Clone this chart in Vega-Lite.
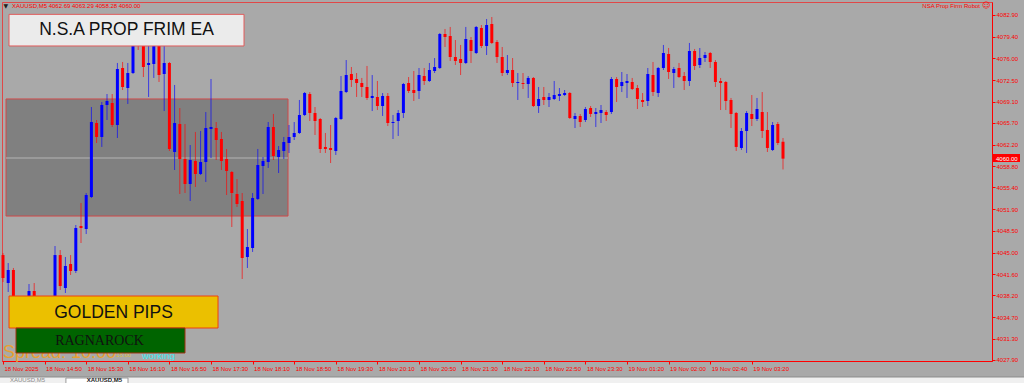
{
"$schema": "https://vega.github.io/schema/vega-lite/v6.json",
"width": 990, "height": 359,
"autosize": {"type": "none"},
"padding": {"left": 2, "top": 2, "right": 32, "bottom": 22},
"background": "#A9A9A9",
"config": {"view": {"stroke": "#E04848", "strokeWidth": 1, "fill": "#A9A9A9"}, "font": "Liberation Sans",
  "scale": {"continuousPadding": 0},
  "axis": {"labelOverlap": false, "labelFontSize": 6, "labelFont": "Liberation Sans", "labelColor": "#FF0000", "tickColor": "#FF0000", "domainColor": "#FF0000",
           "tickSize": 3, "labelPadding": 1, "grid": false, "labelFlush": false, "labelBound": false, "titleColor": "#A9A9A9", "titleFontSize": 1}},
"datasets": {"bars": [
{"i":0,"open":4044.63,"high":4044.95,"low":4040.33,"close":4040.97},
{"i":1,"open":4040.17,"high":4043.36,"low":4038.74,"close":4042.25},
{"i":2,"open":4042.25,"high":4042.57,"low":4036.82,"close":4037.46},
{"i":3,"open":4037.46,"high":4038.10,"low":4035.87,"close":4036.50},
{"i":4,"open":4036.50,"high":4037.94,"low":4035.55,"close":4037.62},
{"i":5,"open":4037.46,"high":4040.01,"low":4036.98,"close":4038.90},
{"i":6,"open":4038.90,"high":4040.17,"low":4036.50,"close":4037.14},
{"i":7,"open":4037.14,"high":4037.62,"low":4035.55,"close":4036.18},
{"i":8,"open":4036.18,"high":4037.46,"low":4035.71,"close":4037.14},
{"i":9,"open":4037.14,"high":4037.78,"low":4036.50,"close":4037.62},
{"i":10,"open":4037.46,"high":4046.07,"low":4037.14,"close":4044.63},
{"i":11,"open":4044.63,"high":4045.43,"low":4039.06,"close":4039.69},
{"i":12,"open":4039.38,"high":4044.32,"low":4038.58,"close":4042.88},
{"i":13,"open":4043.20,"high":4044.63,"low":4041.45,"close":4042.09},
{"i":14,"open":4042.09,"high":4049.42,"low":4041.77,"close":4048.94},
{"i":15,"open":4049.26,"high":4052.93,"low":4046.55,"close":4048.94},
{"i":16,"open":4048.78,"high":4054.52,"low":4047.98,"close":4054.20},
{"i":17,"open":4053.88,"high":4068.23,"low":4053.72,"close":4065.84},
{"i":18,"open":4065.68,"high":4066.16,"low":4062.49,"close":4063.45},
{"i":19,"open":4063.45,"high":4069.03,"low":4061.86,"close":4068.55},
{"i":20,"open":4068.55,"high":4070.30,"low":4066.16,"close":4069.19},
{"i":21,"open":4068.87,"high":4070.30,"low":4065.04,"close":4065.36},
{"i":22,"open":4065.36,"high":4075.25,"low":4063.29,"close":4074.29},
{"i":23,"open":4074.45,"high":4075.41,"low":4070.94,"close":4071.42},
{"i":24,"open":4071.26,"high":4075.25,"low":4068.71,"close":4073.65},
{"i":25,"open":4073.65,"high":4079.71,"low":4073.49,"close":4078.91},
{"i":26,"open":4079.23,"high":4080.03,"low":4077.32,"close":4078.12},
{"i":27,"open":4078.59,"high":4079.55,"low":4073.01,"close":4074.61},
{"i":28,"open":4074.93,"high":4078.28,"low":4069.83,"close":4075.25},
{"i":29,"open":4075.09,"high":4079.23,"low":4072.86,"close":4078.59},
{"i":30,"open":4078.59,"high":4079.23,"low":4072.22,"close":4073.33},
{"i":31,"open":4073.49,"high":4077.96,"low":4067.59,"close":4075.25},
{"i":32,"open":4075.25,"high":4075.41,"low":4061.22,"close":4061.54},
{"i":33,"open":4061.06,"high":4071.74,"low":4058.19,"close":4065.68},
{"i":34,"open":4065.52,"high":4068.07,"low":4054.36,"close":4059.94},
{"i":35,"open":4059.94,"high":4065.52,"low":4054.52,"close":4055.96},
{"i":36,"open":4055.96,"high":4062.17,"low":4053.25,"close":4059.78},
{"i":37,"open":4059.62,"high":4064.25,"low":4055.48,"close":4057.55},
{"i":38,"open":4057.55,"high":4064.41,"low":4057.39,"close":4059.46},
{"i":39,"open":4059.46,"high":4067.43,"low":4056.28,"close":4064.88},
{"i":40,"open":4064.73,"high":4072.70,"low":4060.10,"close":4065.04},
{"i":41,"open":4064.88,"high":4065.84,"low":4059.78,"close":4062.97},
{"i":42,"open":4063.13,"high":4064.25,"low":4058.19,"close":4059.62},
{"i":43,"open":4059.94,"high":4061.54,"low":4054.20,"close":4058.03},
{"i":44,"open":4057.87,"high":4058.03,"low":4049.10,"close":4054.52},
{"i":45,"open":4054.36,"high":4056.75,"low":4052.29,"close":4052.77},
{"i":46,"open":4053.25,"high":4054.52,"low":4040.81,"close":4044.16},
{"i":47,"open":4044.32,"high":4048.78,"low":4042.57,"close":4045.91},
{"i":48,"open":4045.75,"high":4054.52,"low":4045.12,"close":4053.72},
{"i":49,"open":4053.57,"high":4061.54,"low":4053.41,"close":4058.99},
{"i":50,"open":4058.83,"high":4060.26,"low":4054.36,"close":4059.62},
{"i":51,"open":4059.46,"high":4065.84,"low":4058.51,"close":4065.04},
{"i":52,"open":4065.04,"high":4067.12,"low":4059.78,"close":4060.42},
{"i":53,"open":4060.26,"high":4062.01,"low":4057.71,"close":4061.38},
{"i":54,"open":4061.22,"high":4063.45,"low":4059.94,"close":4062.65},
{"i":55,"open":4062.49,"high":4065.36,"low":4060.90,"close":4063.45},
{"i":56,"open":4063.45,"high":4065.84,"low":4062.97,"close":4064.09},
{"i":57,"open":4064.09,"high":4069.35,"low":4063.93,"close":4066.96},
{"i":58,"open":4066.96,"high":4070.62,"low":4066.80,"close":4070.46},
{"i":59,"open":4070.30,"high":4070.62,"low":4066.00,"close":4067.28},
{"i":60,"open":4067.28,"high":4068.23,"low":4063.77,"close":4066.00},
{"i":61,"open":4066.32,"high":4066.48,"low":4060.90,"close":4061.54},
{"i":62,"open":4061.86,"high":4064.09,"low":4060.90,"close":4061.54},
{"i":63,"open":4061.70,"high":4065.36,"low":4059.30,"close":4061.38},
{"i":64,"open":4061.22,"high":4066.64,"low":4060.58,"close":4066.48},
{"i":65,"open":4066.32,"high":4073.17,"low":4066.16,"close":4070.78},
{"i":66,"open":4070.62,"high":4075.72,"low":4070.46,"close":4073.33},
{"i":67,"open":4073.49,"high":4074.61,"low":4071.42,"close":4072.54},
{"i":68,"open":4072.70,"high":4073.65,"low":4069.83,"close":4072.06},
{"i":69,"open":4072.06,"high":4072.86,"low":4069.83,"close":4071.42},
{"i":70,"open":4071.42,"high":4074.77,"low":4069.35,"close":4069.67},
{"i":71,"open":4069.67,"high":4073.33,"low":4067.59,"close":4069.99},
{"i":72,"open":4069.83,"high":4072.38,"low":4067.75,"close":4068.39},
{"i":73,"open":4068.39,"high":4070.46,"low":4066.80,"close":4069.99},
{"i":74,"open":4069.99,"high":4070.46,"low":4065.20,"close":4065.68},
{"i":75,"open":4065.68,"high":4066.96,"low":4063.13,"close":4065.84},
{"i":76,"open":4066.00,"high":4067.75,"low":4063.61,"close":4067.28},
{"i":77,"open":4067.28,"high":4072.06,"low":4066.48,"close":4071.90},
{"i":78,"open":4072.06,"high":4073.01,"low":4070.46,"close":4070.78},
{"i":79,"open":4070.94,"high":4073.97,"low":4069.19,"close":4070.46},
{"i":80,"open":4070.78,"high":4074.45,"low":4069.51,"close":4073.33},
{"i":81,"open":4073.17,"high":4074.45,"low":4071.74,"close":4072.38},
{"i":82,"open":4072.38,"high":4075.25,"low":4072.22,"close":4074.13},
{"i":83,"open":4073.97,"high":4076.04,"low":4073.65,"close":4074.61},
{"i":84,"open":4074.45,"high":4080.03,"low":4074.29,"close":4079.87},
{"i":85,"open":4079.87,"high":4080.67,"low":4077.80,"close":4079.39},
{"i":86,"open":4079.55,"high":4080.99,"low":4075.57,"close":4076.20},
{"i":87,"open":4076.20,"high":4078.91,"low":4074.93,"close":4075.57},
{"i":88,"open":4075.88,"high":4078.12,"low":4073.33,"close":4075.25},
{"i":89,"open":4075.25,"high":4080.99,"low":4075.09,"close":4079.07},
{"i":90,"open":4078.91,"high":4079.39,"low":4075.25,"close":4077.16},
{"i":91,"open":4076.84,"high":4081.14,"low":4076.68,"close":4080.99},
{"i":92,"open":4080.83,"high":4081.30,"low":4077.64,"close":4077.96},
{"i":93,"open":4077.96,"high":4082.26,"low":4076.52,"close":4081.30},
{"i":94,"open":4081.46,"high":4082.58,"low":4078.28,"close":4078.44},
{"i":95,"open":4078.59,"high":4078.91,"low":4075.25,"close":4076.20},
{"i":96,"open":4076.20,"high":4077.80,"low":4073.17,"close":4073.65},
{"i":97,"open":4073.65,"high":4076.52,"low":4073.33,"close":4074.13},
{"i":98,"open":4074.13,"high":4076.04,"low":4071.42,"close":4072.06},
{"i":99,"open":4072.06,"high":4073.65,"low":4069.35,"close":4072.22},
{"i":100,"open":4072.06,"high":4073.65,"low":4071.10,"close":4071.90},
{"i":101,"open":4071.90,"high":4073.17,"low":4069.67,"close":4072.86},
{"i":102,"open":4072.86,"high":4073.01,"low":4068.23,"close":4068.39},
{"i":103,"open":4068.39,"high":4071.42,"low":4067.28,"close":4069.51},
{"i":104,"open":4069.83,"high":4071.42,"low":4068.55,"close":4069.35},
{"i":105,"open":4069.35,"high":4070.46,"low":4068.23,"close":4069.83},
{"i":106,"open":4069.51,"high":4072.38,"low":4069.35,"close":4070.14},
{"i":107,"open":4069.99,"high":4071.26,"low":4069.19,"close":4070.30},
{"i":108,"open":4070.14,"high":4070.94,"low":4069.99,"close":4070.46},
{"i":109,"open":4070.46,"high":4070.62,"low":4066.32,"close":4066.48},
{"i":110,"open":4066.32,"high":4067.28,"low":4064.88,"close":4066.80},
{"i":111,"open":4066.80,"high":4067.12,"low":4065.04,"close":4065.84},
{"i":112,"open":4066.16,"high":4068.23,"low":4065.84,"close":4067.91},
{"i":113,"open":4068.07,"high":4068.39,"low":4066.64,"close":4067.12},
{"i":114,"open":4067.12,"high":4068.07,"low":4065.04,"close":4067.43},
{"i":115,"open":4067.28,"high":4068.55,"low":4065.68,"close":4067.75},
{"i":116,"open":4067.43,"high":4067.75,"low":4066.00,"close":4066.96},
{"i":117,"open":4067.43,"high":4073.01,"low":4067.12,"close":4072.70},
{"i":118,"open":4072.70,"high":4073.01,"low":4069.03,"close":4071.42},
{"i":119,"open":4071.58,"high":4073.81,"low":4070.62,"close":4072.22},
{"i":120,"open":4072.06,"high":4073.49,"low":4069.67,"close":4072.38},
{"i":121,"open":4072.22,"high":4072.86,"low":4070.94,"close":4071.10},
{"i":122,"open":4071.26,"high":4071.74,"low":4067.91,"close":4069.51},
{"i":123,"open":4069.35,"high":4070.46,"low":4068.23,"close":4069.03},
{"i":124,"open":4069.19,"high":4074.45,"low":4068.39,"close":4073.49},
{"i":125,"open":4073.33,"high":4075.41,"low":4069.99,"close":4070.62},
{"i":126,"open":4070.46,"high":4074.61,"low":4069.83,"close":4074.45},
{"i":127,"open":4074.45,"high":4078.12,"low":4074.13,"close":4076.84},
{"i":128,"open":4076.68,"high":4077.64,"low":4072.70,"close":4073.81},
{"i":129,"open":4073.65,"high":4074.61,"low":4071.26,"close":4074.29},
{"i":130,"open":4074.45,"high":4075.25,"low":4072.86,"close":4073.01},
{"i":131,"open":4073.17,"high":4073.81,"low":4070.94,"close":4072.38},
{"i":132,"open":4072.38,"high":4078.44,"low":4071.58,"close":4077.16},
{"i":133,"open":4077.16,"high":4077.48,"low":4074.13,"close":4074.77},
{"i":134,"open":4074.93,"high":4077.64,"low":4074.45,"close":4076.04},
{"i":135,"open":4076.04,"high":4077.00,"low":4075.41,"close":4076.52},
{"i":136,"open":4076.84,"high":4077.00,"low":4074.45,"close":4075.41},
{"i":137,"open":4075.41,"high":4075.72,"low":4071.42,"close":4072.22},
{"i":138,"open":4072.38,"high":4072.86,"low":4067.75,"close":4072.06},
{"i":139,"open":4072.22,"high":4072.38,"low":4067.75,"close":4069.19},
{"i":140,"open":4069.35,"high":4069.67,"low":4064.88,"close":4067.12},
{"i":141,"open":4067.28,"high":4067.43,"low":4061.22,"close":4061.86},
{"i":142,"open":4061.70,"high":4064.88,"low":4061.38,"close":4064.41},
{"i":143,"open":4064.41,"high":4067.59,"low":4060.90,"close":4067.28},
{"i":144,"open":4067.12,"high":4070.14,"low":4065.20,"close":4066.32},
{"i":145,"open":4066.32,"high":4069.67,"low":4066.00,"close":4067.91},
{"i":146,"open":4067.43,"high":4070.62,"low":4063.29,"close":4064.41},
{"i":147,"open":4064.57,"high":4067.43,"low":4061.06,"close":4061.70},
{"i":148,"open":4061.38,"high":4065.84,"low":4061.22,"close":4065.36},
{"i":149,"open":4065.52,"high":4065.84,"low":4062.17,"close":4062.49},
{"i":150,"open":4062.69,"high":4063.29,"low":4058.28,"close":4060.00}
]},
"layer": [
{"data": {"values": [{"name": "zone"}]},
 "layer": [
  {"mark": {"type": "rect", "fill": "#808080", "stroke": "#D04848", "strokeWidth": 1},
   "encoding": {"x": {"datum": 0.577, "type": "quantitative", "scale": {"domain": [-0.1923, 190.19], "nice": false, "zero": false, "padding": 0}},
                "x2": {"datum": 54.81},
                "y": {"datum": 4069.51, "type": "quantitative", "scale": {"domain": [4027.74, 4084.97], "nice": false, "zero": false, "padding": 0}},
                "y2": {"datum": 4050.85}}},
  {"mark": {"type": "rule", "color": "#B4B4B4", "strokeWidth": 1},
   "encoding": {"x": {"datum": 0.577, "type": "quantitative", "scale": {"domain": [-0.1923, 190.19], "nice": false, "zero": false, "padding": 0}}, "x2": {"datum": 54.81},
                "y": {"datum": 4060.10, "type": "quantitative", "scale": {"domain": [4027.74, 4084.97], "nice": false, "zero": false, "padding": 0}}}}
 ]},
{"data": {"name": "bars"},
 "mark": {"type": "rule", "strokeWidth": 1, "opacity": 0.65},
 "encoding": {
  "x": {"field": "i", "type": "quantitative", "title": null,
        "scale": {"domain": [-0.1923, 190.19], "nice": false, "zero": false, "padding": 0},
        "axis": {"orient": "bottom", "values": [0,8,16,24,32,40,48,56,64,72,80,88,96,104,112,120,128,136,144], "tickCount": 40,
                 "labelExpr": "['18 Nov 2025','18 Nov 14:50','18 Nov 15:30','18 Nov 16:10','18 Nov 16:50','18 Nov 17:30','18 Nov 18:10','18 Nov 18:50','18 Nov 19:30','18 Nov 20:10','18 Nov 20:50','18 Nov 21:30','18 Nov 22:10','18 Nov 22:50','18 Nov 23:30','19 Nov 01:20','19 Nov 02:00','19 Nov 02:40','19 Nov 03:20'][round(datum.value/8)]",
                 "labelAlign": "left", "labelBaseline": "top", "labelOffset": 1, "labelColor": "#FF0000", "labelFontSize": 6, "labelFont": "Liberation Sans",
                 "tickColor": "#FF0000", "tickSize": 3, "domainColor": "#FF0000", "labelPadding": 1, "grid": false, "labelOverlap": false, "labelFlush": false, "labelBound": false}},
  "y": {"field": "low", "type": "quantitative", "title": null,
        "scale": {"domain": [4027.74, 4084.97], "nice": false, "zero": false, "padding": 0},
        "axis": {"orient": "right", "values": [4082.9,4079.4,4076.0,4072.5,4069.1,4065.7,4062.2,4058.8,4055.4,4051.9,4048.5,4045.0,4041.6,4038.2,4034.7,4031.3,4027.9], "tickCount": 40,
                 "format": ".2f", "labelColor": "#FF0000", "labelFontSize": 6, "labelFont": "Liberation Sans", "tickColor": "#FF0000", "tickSize": 3,
                 "domainColor": "#FF0000", "labelPadding": 1, "grid": false, "labelOverlap": false, "labelFlush": false, "labelBound": false}},
  "y2": {"field": "high"},
  "color": {"condition": {"test": "datum.close >= datum.open", "value": "#0000FF"}, "value": "#FF0000"}
 }},
{"data": {"name": "bars"},
 "mark": {"type": "bar", "size": 3, "orient": "vertical"},
 "encoding": {
  "x": {"field": "i", "type": "quantitative", "scale": {"domain": [-0.1923, 190.19], "nice": false, "zero": false, "padding": 0}},
  "y": {"field": "open", "type": "quantitative", "scale": {"domain": [4027.74, 4084.97], "nice": false, "zero": false, "padding": 0}},
  "y2": {"field": "close"},
  "color": {"condition": {"test": "datum.close >= datum.open", "value": "#0000FF"}, "value": "#FF0000"}
 }},
{"data": {"values": [{"t": "Spread:  10.00"}]},
 "mark": {"type": "text", "fontSize": 18, "font": "Liberation Sans", "color": "#E8A030", "align": "left", "baseline": "alphabetic"},
 "encoding": {"x": {"datum": 0, "type": "quantitative", "scale": {"domain": [-0.1923, 190.19], "nice": false, "zero": false, "padding": 0}},
              "y": {"datum": 4028.22, "type": "quantitative", "scale": {"domain": [4027.74, 4084.97], "nice": false, "zero": false, "padding": 0}}, "text": {"field": "t"}}},
{"data": {"values": [{"t": "15:00"}]},
 "mark": {"type": "text", "fontSize": 6, "font": "Liberation Sans", "color": "#D8C040", "align": "left", "baseline": "alphabetic"},
 "encoding": {"x": {"datum": 21.7, "type": "quantitative", "scale": {"domain": [-0.1923, 190.19], "nice": false, "zero": false, "padding": 0}},
              "y": {"datum": 4028.38, "type": "quantitative", "scale": {"domain": [4027.74, 4084.97], "nice": false, "zero": false, "padding": 0}}, "text": {"field": "t"}}},
{"data": {"values": [{"t": "working"}]},
 "mark": {"type": "text", "fontSize": 9.5, "font": "Liberation Sans", "color": "#40E8F0", "align": "left", "baseline": "alphabetic"},
 "encoding": {"x": {"datum": 26.73, "type": "quantitative", "scale": {"domain": [-0.1923, 190.19], "nice": false, "zero": false, "padding": 0}},
              "y": {"datum": 4028.06, "type": "quantitative", "scale": {"domain": [4027.74, 4084.97], "nice": false, "zero": false, "padding": 0}}, "text": {"field": "t"}}},
{"data": {"values": [{"t": "GOLDEN PIPS"}]},
 "layer": [
  {"mark": {"type": "rect", "fill": "#EBC000", "stroke": "#F04010", "strokeWidth": 1},
   "encoding": {"x": {"datum": 1.154, "type": "quantitative", "scale": {"domain": [-0.1923, 190.19], "nice": false, "zero": false, "padding": 0}}, "x2": {"datum": 41.35},
                "y": {"datum": 4038.10, "type": "quantitative", "scale": {"domain": [4027.74, 4084.97], "nice": false, "zero": false, "padding": 0}}, "y2": {"datum": 4033.0}}},
  {"mark": {"type": "text", "fontSize": 17.5, "font": "Liberation Sans", "color": "#111111", "align": "center", "baseline": "middle"},
   "encoding": {"x": {"datum": 21.25, "type": "quantitative", "scale": {"domain": [-0.1923, 190.19], "nice": false, "zero": false, "padding": 0}},
                "y": {"datum": 4035.47, "type": "quantitative", "scale": {"domain": [4027.74, 4084.97], "nice": false, "zero": false, "padding": 0}}, "text": {"field": "t"}}}
 ]},
{"data": {"values": [{"t": "RAGNAROCK"}]},
 "layer": [
  {"mark": {"type": "rect", "fill": "#006400", "stroke": "#A03010", "strokeWidth": 1},
   "encoding": {"x": {"datum": 2.5, "type": "quantitative", "scale": {"domain": [-0.1923, 190.19], "nice": false, "zero": false, "padding": 0}}, "x2": {"datum": 35.0},
                "y": {"datum": 4033.0, "type": "quantitative", "scale": {"domain": [4027.74, 4084.97], "nice": false, "zero": false, "padding": 0}}, "y2": {"datum": 4029.02}}},
  {"mark": {"type": "text", "fontSize": 14, "font": "Liberation Serif", "color": "#111111", "align": "center", "baseline": "middle"},
   "encoding": {"x": {"datum": 18.56, "type": "quantitative", "scale": {"domain": [-0.1923, 190.19], "nice": false, "zero": false, "padding": 0}},
                "y": {"datum": 4030.93, "type": "quantitative", "scale": {"domain": [4027.74, 4084.97], "nice": false, "zero": false, "padding": 0}}, "text": {"field": "t"}}}
 ]},
{"data": {"values": [{"t": "N.S.A  PROP FRIM EA"}]},
 "layer": [
  {"mark": {"type": "rect", "fill": "#EBEBEB", "stroke": "#E05A5A", "strokeWidth": 1},
   "encoding": {"x": {"datum": 1.154, "type": "quantitative", "scale": {"domain": [-0.1923, 190.19], "nice": false, "zero": false, "padding": 0}}, "x2": {"datum": 46.35},
                "y": {"datum": 4083.0, "type": "quantitative", "scale": {"domain": [4027.74, 4084.97], "nice": false, "zero": false, "padding": 0}}, "y2": {"datum": 4077.96}}},
  {"mark": {"type": "text", "fontSize": 17.5, "font": "Liberation Sans", "color": "#111111", "align": "center", "baseline": "middle"},
   "encoding": {"x": {"datum": 23.75, "type": "quantitative", "scale": {"domain": [-0.1923, 190.19], "nice": false, "zero": false, "padding": 0}},
                "y": {"datum": 4080.43, "type": "quantitative", "scale": {"domain": [4027.74, 4084.97], "nice": false, "zero": false, "padding": 0}}, "text": {"field": "t"}}}
 ]},
{"data": {"values": [{"price": 4060.00}]},
 "layer": [
  {"mark": {"type": "rect", "fill": "#FF0000"},
   "encoding": {"x": {"datum": 190.38, "type": "quantitative", "scale": {"domain": [-0.1923, 190.19], "nice": false, "zero": false, "padding": 0}}, "x2": {"datum": 195.58},
                "y": {"datum": 4060.74, "type": "quantitative", "scale": {"domain": [4027.74, 4084.97], "nice": false, "zero": false, "padding": 0}}, "y2": {"datum": 4059.46}}},
  {"mark": {"type": "text", "fontSize": 6, "font": "Liberation Sans", "color": "#FFFFFF", "align": "left", "baseline": "middle"},
   "encoding": {"x": {"datum": 190.96, "type": "quantitative", "scale": {"domain": [-0.1923, 190.19], "nice": false, "zero": false, "padding": 0}},
                "y": {"field": "price", "type": "quantitative", "scale": {"domain": [4027.74, 4084.97], "nice": false, "zero": false, "padding": 0}}, "text": {"field": "price", "format": ".2f"}}}
 ]},
{"data": {"values": [{"t": "▼"}]},
 "mark": {"type": "text", "fontSize": 6, "font": "DejaVu Sans", "color": "#202020", "align": "left", "baseline": "middle"},
 "encoding": {"x": {"datum": 0.1, "type": "quantitative", "scale": {"domain": [-0.1923, 190.19], "nice": false, "zero": false, "padding": 0}},
              "y": {"datum": 4084.33, "type": "quantitative", "scale": {"domain": [4027.74, 4084.97], "nice": false, "zero": false, "padding": 0}}, "text": {"field": "t"}}},
{"data": {"values": [{"t": "XAUUSD,M5  4062.69 4063.29 4058.28 4060.00"}]},
 "mark": {"type": "text", "fontSize": 6, "font": "Liberation Sans", "color": "#FF0000", "align": "left", "baseline": "middle"},
 "encoding": {"x": {"datum": 1.73, "type": "quantitative", "scale": {"domain": [-0.1923, 190.19], "nice": false, "zero": false, "padding": 0}},
              "y": {"datum": 4084.33, "type": "quantitative", "scale": {"domain": [4027.74, 4084.97], "nice": false, "zero": false, "padding": 0}}, "text": {"field": "t"}}},
{"data": {"values": [{"t": "NSA Prop Firm Robot"}]},
 "mark": {"type": "text", "fontSize": 6, "font": "Liberation Sans", "color": "#FF0000", "align": "right", "baseline": "middle"},
 "encoding": {"x": {"datum": 187.88, "type": "quantitative", "scale": {"domain": [-0.1923, 190.19], "nice": false, "zero": false, "padding": 0}},
              "y": {"datum": 4084.33, "type": "quantitative", "scale": {"domain": [4027.74, 4084.97], "nice": false, "zero": false, "padding": 0}}, "text": {"field": "t"}}},
{"data": {"values": [{"t": "☺"}]},
 "mark": {"type": "text", "fontSize": 8, "font": "DejaVu Sans", "color": "#FF0000", "align": "left", "baseline": "middle"},
 "encoding": {"x": {"datum": 188.3, "type": "quantitative", "scale": {"domain": [-0.1923, 190.19], "nice": false, "zero": false, "padding": 0}},
              "y": {"datum": 4084.33, "type": "quantitative", "scale": {"domain": [4027.74, 4084.97], "nice": false, "zero": false, "padding": 0}}, "text": {"field": "t"}}},
{"data": {"values": [{"t": "XAUUSD,M5"}]},
 "layer": [
  {"mark": {"type": "rect", "fill": "#F0F0F0", "stroke": "#8C8C8C", "strokeWidth": 1},
   "encoding": {"x": {"datum": -1.5, "type": "quantitative", "scale": {"domain": [-0.1923, 190.19], "nice": false, "zero": false, "padding": 0}}, "x2": {"datum": 197.5},
                "y": {"datum": 4025.19, "type": "quantitative", "scale": {"domain": [4027.74, 4084.97], "nice": false, "zero": false, "padding": 0}}, "y2": {"datum": 4023.0}}},
  {"mark": {"type": "rect", "fill": "#FFFFFF", "stroke": "#9A9A9A", "strokeWidth": 1},
   "encoding": {"x": {"datum": 12.1, "type": "quantitative", "scale": {"domain": [-0.1923, 190.19], "nice": false, "zero": false, "padding": 0}}, "x2": {"datum": 24.04},
                "y": {"datum": 4025.03, "type": "quantitative", "scale": {"domain": [4027.74, 4084.97], "nice": false, "zero": false, "padding": 0}}, "y2": {"datum": 4023.0}}},
  {"mark": {"type": "text", "fontSize": 6, "font": "Liberation Sans", "color": "#8A8A8A", "align": "left", "baseline": "middle"},
   "encoding": {"x": {"datum": 1.35, "type": "quantitative", "scale": {"domain": [-0.1923, 190.19], "nice": false, "zero": false, "padding": 0}},
                "y": {"datum": 4024.75, "type": "quantitative", "scale": {"domain": [4027.74, 4084.97], "nice": false, "zero": false, "padding": 0}}, "text": {"field": "t"}}},
  {"mark": {"type": "text", "fontSize": 6, "font": "Liberation Sans", "fontWeight": "bold", "color": "#202020", "align": "right", "baseline": "middle"},
   "encoding": {"x": {"datum": 22.9, "type": "quantitative", "scale": {"domain": [-0.1923, 190.19], "nice": false, "zero": false, "padding": 0}},
                "y": {"datum": 4024.75, "type": "quantitative", "scale": {"domain": [4027.74, 4084.97], "nice": false, "zero": false, "padding": 0}}, "text": {"field": "t"}}}
 ]}
]
}
